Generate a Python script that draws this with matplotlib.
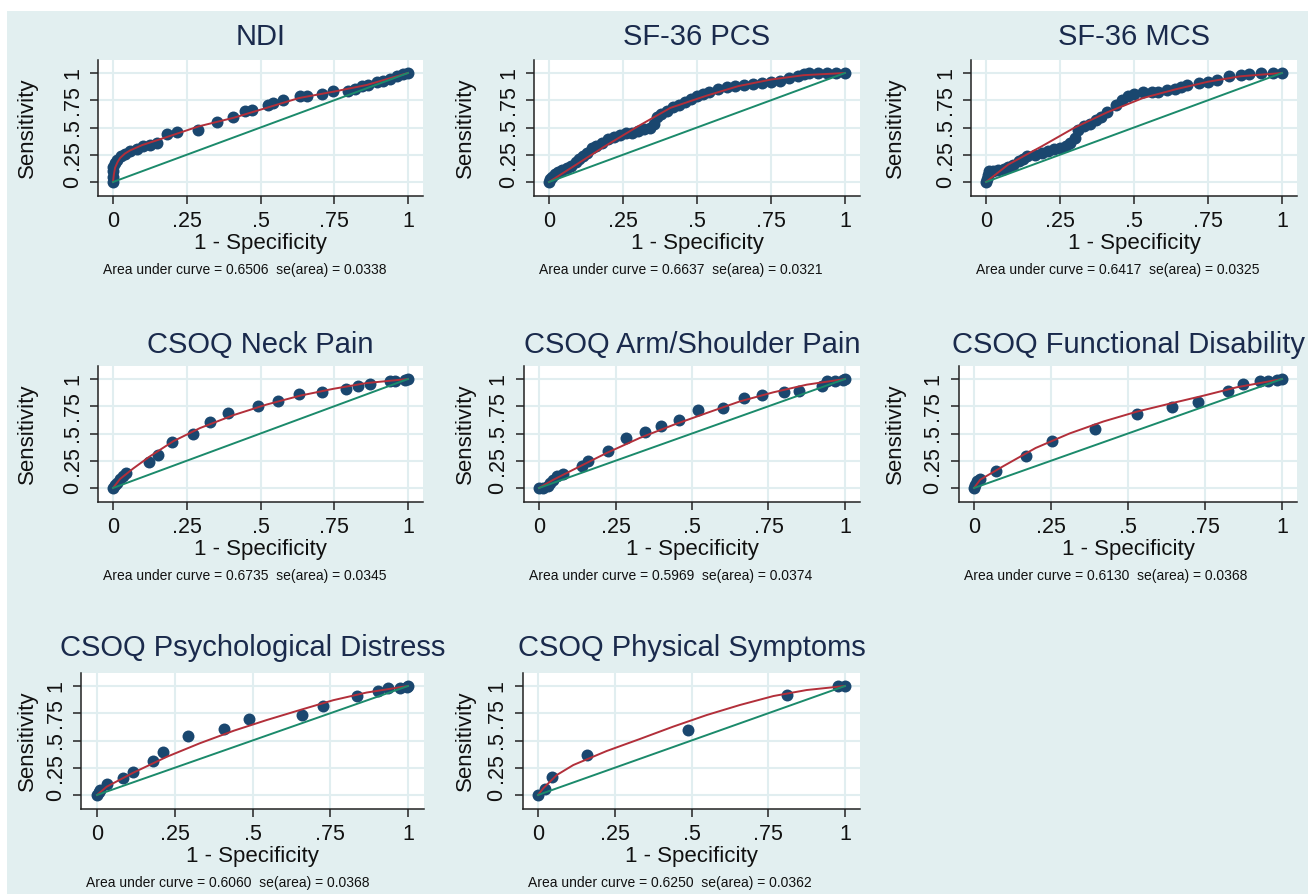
import matplotlib
matplotlib.use("Agg")
import matplotlib.pyplot as plt
from matplotlib.patches import Rectangle

plt.rcParams["font.family"] = ["Liberation Sans", "DejaVu Sans"]

# ============================================================
# Data (1 - specificity, sensitivity)
# ============================================================
titles = ["NDI", "SF-36 PCS", "SF-36 MCS",
          "CSOQ Neck Pain", "CSOQ Arm/Shoulder Pain", "CSOQ Functional Disability",
          "CSOQ Psychological Distress", "CSOQ Physical Symptoms"]

auc = ["0.6506", "0.6637", "0.6417", "0.6735", "0.5969", "0.6130", "0.6060", "0.6250"]
se_auc = ["0.0338", "0.0321", "0.0325", "0.0345", "0.0374", "0.0368", "0.0368", "0.0362"]

# empirical ROC points
ndi_x = [0, 0, 0, 0.001, 0.007, 0.015, 0.026, 0.04, 0.058, 0.08, 0.103, 0.125, 0.148,
         0.182, 0.218, 0.289, 0.351, 0.408, 0.447, 0.47, 0.527, 0.544, 0.577, 0.634,
         0.657, 0.707, 0.745, 0.798, 0.82, 0.843, 0.866, 0.894, 0.916, 0.939, 0.962,
         0.984, 1.0]
ndi_y = [0, 0.05, 0.10, 0.14, 0.17, 0.205, 0.235, 0.257, 0.28, 0.306, 0.327, 0.343, 0.358,
         0.44, 0.459, 0.48, 0.55, 0.60, 0.648, 0.664, 0.71, 0.725, 0.749, 0.786,
         0.792, 0.81, 0.832, 0.832, 0.856, 0.878, 0.893, 0.917, 0.924, 0.945, 0.969,
         0.991, 1.0]

pcs_x = [0, 0.005, 0.01, 0.02, 0.03, 0.045, 0.06, 0.075, 0.09, 0.10, 0.115, 0.13, 0.145,
         0.16, 0.18, 0.20, 0.22, 0.24, 0.26, 0.28, 0.30, 0.32, 0.34, 0.355, 0.365, 0.38,
         0.40, 0.42, 0.44, 0.46, 0.48, 0.50, 0.52, 0.54, 0.57, 0.60, 0.63, 0.66, 0.69,
         0.72, 0.75, 0.78, 0.81, 0.84, 0.86, 0.88, 0.91, 0.94, 0.97, 1.0]
pcs_y = [0.0, 0.03, 0.05, 0.07, 0.09, 0.11, 0.13, 0.15, 0.18, 0.21, 0.24, 0.27, 0.31,
         0.33, 0.36, 0.39, 0.41, 0.43, 0.45, 0.45, 0.47, 0.49, 0.50, 0.53, 0.60, 0.62,
         0.65, 0.69, 0.71, 0.73, 0.76, 0.79, 0.81, 0.83, 0.85, 0.87, 0.88, 0.89, 0.90,
         0.91, 0.92, 0.93, 0.95, 0.97, 0.99, 1.0, 1.0, 1.0, 1.0, 1.0]

mcs_x = [0, 0.003, 0.006, 0.01, 0.025, 0.04, 0.06, 0.075, 0.09, 0.11, 0.125, 0.14, 0.165,
         0.19, 0.21, 0.23, 0.25, 0.27, 0.285, 0.30, 0.31, 0.33, 0.35, 0.37, 0.39, 0.41,
         0.44, 0.46, 0.48, 0.50, 0.53, 0.56, 0.58, 0.61, 0.64, 0.66, 0.68, 0.72, 0.75,
         0.78, 0.82, 0.86, 0.89, 0.93, 0.97, 1.0]
mcs_y = [0, 0.03, 0.06, 0.10, 0.10, 0.11, 0.12, 0.14, 0.16, 0.19, 0.21, 0.24, 0.25,
         0.27, 0.28, 0.30, 0.31, 0.33, 0.36, 0.40, 0.48, 0.51, 0.53, 0.57, 0.60, 0.64,
         0.71, 0.75, 0.79, 0.81, 0.83, 0.83, 0.83, 0.84, 0.85, 0.87, 0.89, 0.91, 0.92,
         0.94, 0.97, 0.98, 0.99, 1.0, 1.0, 1.0]

neck_x = [0, 0.007, 0.012, 0.024, 0.035, 0.044, 0.123, 0.154, 0.20, 0.27, 0.33, 0.39,
          0.49, 0.56, 0.63, 0.71, 0.79, 0.83, 0.87, 0.94, 0.956, 0.99, 1.0]
neck_y = [0, 0.025, 0.05, 0.08, 0.11, 0.14, 0.235, 0.30, 0.42, 0.50, 0.61, 0.69,
          0.755, 0.80, 0.865, 0.885, 0.91, 0.94, 0.955, 0.98, 0.985, 0.995, 1.0]

arm_x = [0, 0.014, 0.03, 0.036, 0.047, 0.058, 0.08, 0.14, 0.16, 0.227, 0.284, 0.346,
         0.40, 0.457, 0.52, 0.60, 0.67, 0.728, 0.80, 0.85, 0.924, 0.94, 0.967, 0.995, 1.0]
arm_y = [0, 0, 0.015, 0.046, 0.076, 0.107, 0.13, 0.205, 0.245, 0.34, 0.46, 0.51,
         0.57, 0.62, 0.72, 0.734, 0.826, 0.856, 0.878, 0.887, 0.933, 0.98, 0.98, 0.994, 1.0]

func_x = [0, 0.003, 0.009, 0.02, 0.071, 0.169, 0.252, 0.393, 0.528, 0.642, 0.728,
          0.826, 0.874, 0.929, 0.956, 0.983, 1.0]
func_y = [0, 0.03, 0.06, 0.083, 0.153, 0.29, 0.43, 0.544, 0.68, 0.743, 0.789,
          0.893, 0.954, 0.979, 0.979, 0.994, 1.0]

psych_x = [0, 0.005, 0.01, 0.031, 0.083, 0.115, 0.179, 0.213, 0.294, 0.408, 0.49,
           0.658, 0.728, 0.835, 0.905, 0.937, 0.974, 0.996, 1.0]
psych_y = [0, 0.03, 0.046, 0.10, 0.153, 0.208, 0.312, 0.39, 0.544, 0.61, 0.694,
           0.734, 0.82, 0.908, 0.954, 0.985, 0.985, 0.994, 1.0]

phys_x = [0, 0.023, 0.045, 0.159, 0.49, 0.81, 0.978, 1.0]
phys_y = [0, 0.052, 0.162, 0.367, 0.596, 0.917, 1.0, 1.0]

# fitted (smooth) ROC curves
ndi_fx = [0, 0.003, 0.007, 0.015, 0.024, 0.04, 0.058, 0.10, 0.18, 0.29, 0.41, 0.52, 0.63, 0.75, 0.86, 1.0]
ndi_fy = [0, 0.07, 0.13, 0.18, 0.22, 0.26, 0.29, 0.34, 0.41, 0.51, 0.59, 0.68, 0.77, 0.83, 0.89, 1.0]
pcs_fx = [0, 0.075, 0.19, 0.30, 0.41, 0.53, 0.64, 0.75, 0.86, 1.0]
pcs_fy = [0, 0.13, 0.33, 0.51, 0.68, 0.79, 0.88, 0.94, 0.98, 1.0]
mcs_fx = [0, 0.075, 0.19, 0.30, 0.41, 0.53, 0.64, 0.75, 0.86, 1.0]
mcs_fy = [0, 0.16, 0.33, 0.50, 0.64, 0.77, 0.85, 0.92, 0.97, 1.0]
neck_fx = [0, 0.024, 0.069, 0.125, 0.205, 0.295, 0.41, 0.52, 0.634, 0.747, 0.86, 1.0]
neck_fy = [0, 0.083, 0.18, 0.29, 0.43, 0.55, 0.67, 0.765, 0.847, 0.91, 0.963, 1.0]
arm_fx = [0, 0.047, 0.112, 0.22, 0.33, 0.44, 0.55, 0.657, 0.766, 0.875, 1.0]
arm_fy = [0, 0.076, 0.168, 0.32, 0.46, 0.58, 0.69, 0.795, 0.878, 0.948, 1.0]
func_fx = [0, 0.02, 0.095, 0.20, 0.31, 0.42, 0.528, 0.636, 0.745, 0.853, 1.0]
func_fy = [0, 0.076, 0.20, 0.367, 0.50, 0.61, 0.70, 0.774, 0.847, 0.924, 1.0]
psych_fx = [0, 0.031, 0.117, 0.224, 0.33, 0.44, 0.546, 0.653, 0.76, 0.867, 1.0]
psych_fy = [0, 0.076, 0.205, 0.35, 0.474, 0.59, 0.688, 0.78, 0.87, 0.94, 1.0]
phys_fx = [0, 0.017, 0.061, 0.115, 0.224, 0.332, 0.44, 0.55, 0.658, 0.767, 0.875, 1.0]
phys_fy = [0, 0.061, 0.183, 0.275, 0.404, 0.514, 0.627, 0.734, 0.826, 0.908, 0.963, 1.0]

points = [(ndi_x, ndi_y), (pcs_x, pcs_y), (mcs_x, mcs_y), (neck_x, neck_y),
          (arm_x, arm_y), (func_x, func_y), (psych_x, psych_y), (phys_x, phys_y)]
fits = [(ndi_fx, ndi_fy), (pcs_fx, pcs_fy), (mcs_fx, mcs_fy), (neck_fx, neck_fy),
        (arm_fx, arm_fy), (func_fx, func_fy), (psych_fx, psych_fy), (phys_fx, phys_fy)]

ticks = [0, 0.25, 0.5, 0.75, 1]
tick_labels = ["0", ".25", ".5", ".75", "1"]

# ============================================================
# Layout (pixel positions of data 0 and 1 in each panel)
# ============================================================
W, H = 1308, 894
x0_px = [113, 549, 986, 113, 539, 974, 97, 538]
x1_px = [408, 845, 1282, 408, 845, 1282, 408, 845]
y1_row = [73, 379, 686]
y0_row = [182, 488, 795]
ylab_col = [27, 465, 895]
title_base = [45, 353, 656]

BG = "#e2eff0"
NAVY = "#1a476f"
RED = "#b22f3a"
TEAL = "#1b8a6b"

fig = plt.figure(figsize=(W / 100, H / 100), dpi=100, facecolor="white")
fig.patches.append(Rectangle((7 / W, 0), (W - 7) / W, (H - 11) / H,
                             transform=fig.transFigure, facecolor=BG,
                             edgecolor="none", zorder=-10))

for i in range(8):
    row, col = divmod(i, 3)
    xa, xb = x0_px[i], x1_px[i]
    ya, yb = y1_row[row], y0_row[row]
    ux, uy = xb - xa, yb - ya
    left = xa - 0.05 * ux
    right = xb + 0.05 * ux
    top = ya - 0.12 * uy
    bottom = yb + 0.125 * uy
    ax = fig.add_axes([left / W, 1 - bottom / H, (right - left) / W, (bottom - top) / H])
    ax.set_facecolor("white")
    ax.set_xlim(-0.05, 1.05)
    ax.set_ylim(-0.125, 1.12)

    px, py = points[i]
    fx, fy = fits[i]
    ax.plot(px, py, "o", color=NAVY, markersize=8.6, markeredgewidth=0, zorder=2)
    ax.plot(fx, fy, color=RED, lw=1.4, zorder=3)
    ax.plot([0, 1], [0, 1], color=TEAL, lw=1.4, zorder=4)

    ax.set_xticks(ticks)
    ax.set_xticklabels(tick_labels, fontsize=15.5)
    ax.set_yticks(ticks)
    ax.set_yticklabels(tick_labels, fontsize=15.5, rotation=90, va="center")
    ax.tick_params(length=6, width=1.1, pad=5, color="#222222", labelcolor="#111111")
    ax.grid(True, color="#e1eef0", lw=1.5)
    ax.set_axisbelow(True)
    for s in ("top", "right"):
        ax.spines[s].set_visible(False)
    for s in ("left", "bottom"):
        ax.spines[s].set_color("#222222")
        ax.spines[s].set_linewidth(1.1)

    cx = (left + right) / 2
    fig.text(cx / W, 1 - title_base[row] / H, titles[i], fontsize=21,
             color="#1a2a4c", ha="center", va="baseline")
    fig.text(cx / W, 1 - (bottom + 53) / H, "1 - Specificity", fontsize=16,
             color="#111111", ha="center", va="baseline")
    fig.text(ylab_col[col] / W, 1 - ((ya + yb) / 2) / H, "Sensitivity", fontsize=16,
             color="#111111", ha="center", va="center", rotation=90)
    fig.text((left + 5) / W, 1 - (bottom + 78) / H,
             f"Area under curve = {auc[i]}  se(area) = {se_auc[i]}",
             fontsize=10, color="#111111", ha="left", va="baseline")

fig.savefig("out.png", dpi=100, facecolor="white")
